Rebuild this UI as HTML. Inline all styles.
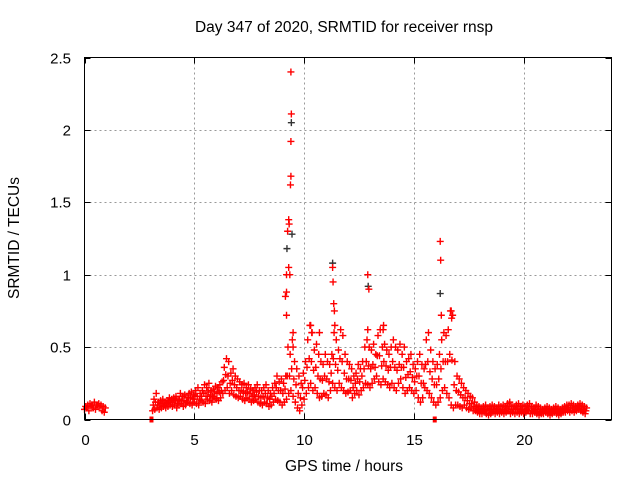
<!DOCTYPE html>
<html><head><meta charset="utf-8"><style>
body{margin:0;background:#fff;}
svg{display:block;font-family:"Liberation Sans",sans-serif;}
</style></head><body>
<svg id="chart" width="640" height="480">
<text x="344" y="32" font-size="15.5" text-anchor="middle">Day 347 of 2020, SRMTID for receiver rnsp</text>
<text x="344" y="471" font-size="15.5" text-anchor="middle">GPS time / hours</text>
<text x="19" y="238" font-size="15.5" text-anchor="middle" transform="rotate(-90 19 238)">SRMTID / TECUs</text>
<g id="grid"></g>
<g id="ticks"></g>
<g id="marks"></g>
<rect x="84.5" y="57.5" width="527" height="362" fill="none" stroke="#000" stroke-width="1"/>
</svg>
<script>
const xTicks=[0,5,10,15,20];
const yTicks=[0,0.5,1,1.5,2,2.5];
const yTickLabels=["0","0.5","1","1.5","2","2.5"];
const seg1Times=[0.0,0.1,0.2,0.3,0.4,0.5,0.6,0.7,0.8,0.9];
const seg1Values=[0.07,0.08,0.06,0.09,0.08,0.07,0.1,0.08,0.06,0.05];
const seg1High=[0.09,0.1,0.11,0.1,0.12,0.1,0.11,0.1,0.09,0.08];
const gapMarks=[[3.05,0],[15.95,0]];
const startHour=3.1;
const stepHour=0.1;
const lo=[.06,.07,.08,.07,.08,.09,.08,.09,.10,
.09,.10,.08,.10,.11,.09,.10,.12,.11,.10,
.12,.11,.10,.13,.12,.11,.14,.13,.12,.15,
.14,.13,.15,.18,.20,.22,.18,.20,.17,.16,
.15,.16,.14,.13,.15,.14,.12,.13,.14,.12,
.11,.10,.12,.11,.09,.10,.12,.14,.13,.12,
.10,.12,.14,.18,.20,.16,.12,.08,.06,.10,
.14,.18,.22,.25,.20,.22,.18,.15,.16,.18,
.17,.15,.20,.25,.22,.20,.25,.22,.20,.18,
.19,.20,.15,.18,.20,.17,.20,.22,.25,.24,
.22,.25,.28,.30,.26,.24,.28,.26,.24,.22,
.25,.22,.20,.25,.28,.22,.18,.20,.22,.20,
.18,.20,.15,.12,.15,.22,.20,.18,.15,.12,
.10,.12,.15,.20,.22,.18,.15,.10,.08,.10,
.10,.09,.08,.10,.08,.07,.08,.06,.06,.05,
.04,.04,.05,.04,.03,.04,.05,.04,.05,.04,
.05,.04,.05,.06,.04,.05,.04,.05,.04,.05,
.04,.05,.06,.04,.04,.05,.04,.03,.04,.04,
.05,.04,.03,.04,.05,.04,.03,.04,.05,.05,
.06,.05,.06,.05,.06,.07,.06,.05,.04];
const mid=[.10,.12,.10,.10,.11,.10,.11,.12,.12,
.12,.13,.11,.14,.13,.13,.12,.15,.15,.14,
.16,.16,.14,.16,.18,.16,.19,.17,.16,.19,
.18,.19,.20,.27,.31,.30,.25,.27,.24,.22,
.20,.20,.19,.18,.19,.18,.16,.17,.19,.16,
.15,.16,.18,.15,.14,.16,.18,.22,.20,.20,
.18,.21,.30,.30,.35,.28,.24,.18,.15,.22,
.27,.36,.42,.40,.34,.36,.30,.28,.27,.30,
.28,.26,.32,.42,.38,.34,.42,.40,.32,.28,
.28,.27,.22,.25,.28,.26,.30,.35,.40,.37,
.35,.38,.36,.44,.44,.37,.40,.37,.34,.36,
.40,.36,.34,.38,.36,.36,.29,.31,.33,.29,
.26,.30,.30,.25,.25,.38,.40,.33,.28,.24,
.24,.28,.35,.40,.40,.40,.45,.41,.24,.20,
.19,.17,.15,.15,.13,.11,.11,.09,.08,.07,
.06,.06,.07,.06,.06,.07,.07,.06,.07,.06,
.07,.06,.08,.09,.07,.07,.07,.08,.06,.07,
.06,.07,.08,.06,.06,.07,.06,.05,.05,.06,
.07,.06,.05,.06,.07,.06,.05,.06,.07,.07,
.08,.08,.08,.07,.08,.09,.08,.07,.06];
const hi=[.14,.18,.12,.13,.14,.12,.13,.15,.14,
.15,.16,.14,.18,.16,.17,.15,.18,.19,.17,
.20,.22,.18,.20,.24,.22,.25,.20,.21,.23,
.22,.24,.26,.36,.42,.40,.32,.35,.30,.28,
.26,.24,.25,.22,.24,.21,.20,.22,.24,.20,
.20,.22,.24,.20,.18,.22,.25,.30,.26,.28,
.25,.30,.50,.45,.55,.40,.35,.30,.25,.32,
.40,.55,.65,.60,.48,.52,.45,.40,.38,.45,
.40,.38,.45,.60,.55,.48,.62,.58,.45,.40,
.38,.35,.30,.32,.38,.35,.40,.50,.55,.50,
.48,.52,.45,.58,.62,.50,.52,.48,.45,.50,
.55,.50,.48,.52,.45,.50,.40,.42,.45,.38,
.35,.40,.45,.38,.35,.55,.60,.48,.40,.35,
.38,.45,.55,.60,.58,.62,.75,.72,.40,.30,
.28,.25,.22,.20,.18,.16,.15,.12,.10,.09,
.08,.09,.10,.08,.09,.10,.09,.08,.10,.09,
.10,.09,.11,.12,.10,.09,.10,.11,.09,.10,
.09,.10,.11,.09,.08,.10,.09,.08,.07,.08,
.09,.08,.07,.08,.09,.08,.07,.08,.09,.10,
.10,.11,.10,.09,.10,.11,.10,.09,.08];
const spikeTimes=[9.2,9.2,9.2,9.22,9.25,9.3,9.3,9.32,9.4,9.4,9.42,9.42,9.4,9.38,9.35,9.5,9.5,11.3,11.3,11.32,11.35,11.38,11.4,12.9,12.92,12.95,12.9,13.6,13.62,16.2,16.22,16.2,16.25,16.7,16.72,10.3,10.35,10.7,9.45,9.15];
const spikeValues=[0.72,0.88,1.0,1.18,1.3,1.38,1.05,1.35,1.68,1.92,2.05,2.11,2.4,1.62,1.0,0.6,0.5,1.08,1.05,0.95,0.8,0.75,0.65,1.0,0.92,0.9,0.62,0.62,0.65,1.23,1.1,0.87,0.72,0.75,0.7,0.65,0.6,0.6,1.28,0.85];

const X0=84.5,X1=611.5,Y0=419.5,Y1=57.5,XMAX=24,YMAX=2.5;
const xs=v=>X0+(v/XMAX)*(X1-X0);
const ys=v=>Y0-(v/YMAX)*(Y0-Y1);
const NS="http://www.w3.org/2000/svg";
const grid=document.getElementById('grid'),ticks=document.getElementById('ticks'),marks=document.getElementById('marks');
function line(p,x1,y1,x2,y2,st,dash){const l=document.createElementNS(NS,'line');l.setAttribute('x1',x1);l.setAttribute('y1',y1);l.setAttribute('x2',x2);l.setAttribute('y2',y2);l.setAttribute('stroke',st);if(dash)l.setAttribute('stroke-dasharray',dash);p.appendChild(l);return l;}
function txt(x,y,s,anchor){const t=document.createElementNS(NS,'text');t.setAttribute('x',x);t.setAttribute('y',y);t.setAttribute('font-size','15');t.setAttribute('text-anchor',anchor);t.textContent=s;ticks.appendChild(t);return t;}
xTicks.forEach(v=>{const x=Math.round(xs(v))+0.5;
 if(v>0){const g=line(grid,x,Y0,x,Y1,'#999','2,3');}
 line(ticks,x,Y0,x,Y0-6,'#000');line(ticks,x,Y1,x,Y1+6,'#000');
 const t=txt(x,445,String(v),'middle');
 
 
});
yTicks.forEach((v,i)=>{const y=Math.round(ys(v))+0.5;
 if(v>0&&v<YMAX){const g=line(grid,X0,y,X1,y,'#999','2,3');}
 line(ticks,X0,y,X0+6,y,'#000');line(ticks,X1,y,X1-6,y,'#000');
 const t=txt(71,y+5,yTickLabels[i],'end');
 
 
});
function plus(t,v,color){const x=xs(t),y=ys(v);const p=document.createElementNS(NS,'path');
 p.setAttribute('d',`M${x-3.5} ${y}h7M${x} ${y-3.5}v7`);p.setAttribute('stroke',color);p.setAttribute('stroke-width','1.4');
 
 
 marks.appendChild(p);}
seg1Times.forEach((t,i)=>{plus(t,seg1Values[i],'#f00');plus(t+0.05,seg1High[i],'#f00');});
for(let i=0;i<lo.length;i++){const t=startHour+i*stepHour;
 plus(t,lo[i],'#f00');plus(t+0.033,mid[i],'#f00');plus(t+0.066,hi[i],'#f00');}
spikeTimes.forEach((t,i)=>plus(t,spikeValues[i],i%7===3?'#333':'#f00'));
gapMarks.forEach(m=>{const r=document.createElementNS(NS,'rect');r.setAttribute('x',xs(m[0])-2);r.setAttribute('y',ys(m[1])-3);r.setAttribute('width',4);r.setAttribute('height',6);r.setAttribute('fill','#f00');
 
 
 marks.appendChild(r);});
</script>
</body></html>
